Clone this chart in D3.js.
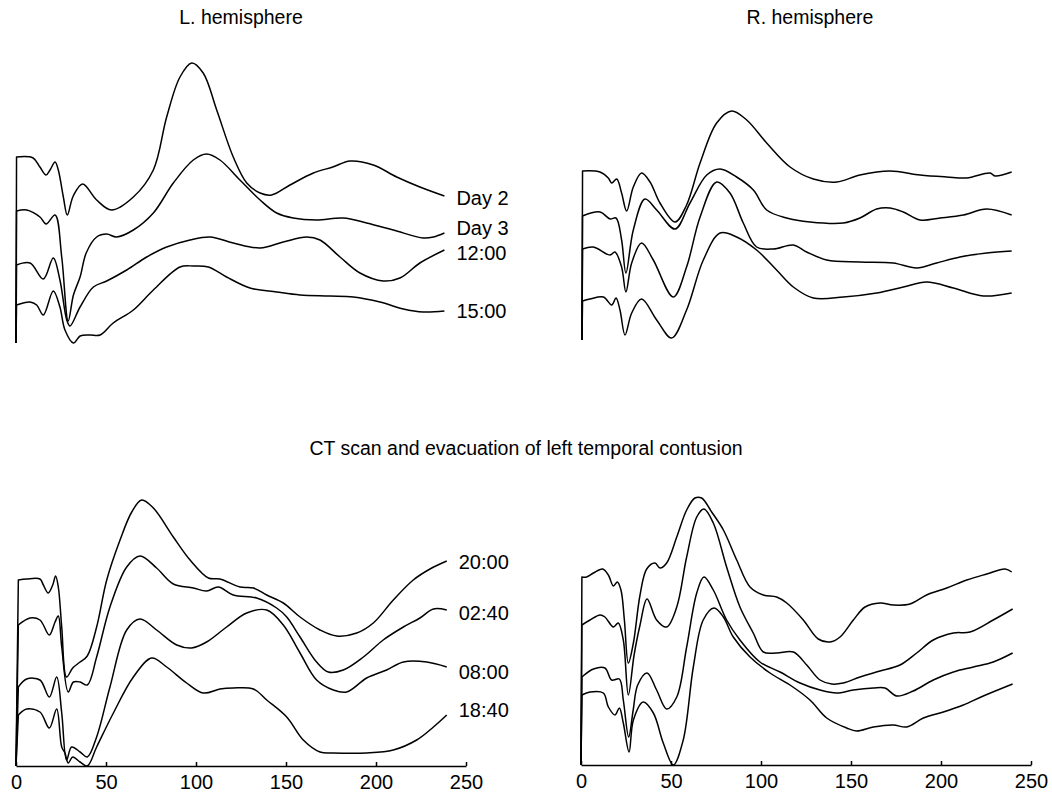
<!DOCTYPE html>
<html><head><meta charset="utf-8">
<script src="https://cdn.jsdelivr.net/npm/d3@7"></script>
<style>
body{margin:0;background:#fff}
svg{display:block;background:#fff}
text{font-family:"Liberation Sans",Arial,Helvetica,sans-serif;fill:#000}
</style>
</head><body>
<svg id="c" width="1052" height="794"></svg>
<script>
// ---------- DATA: [time (x), amplitude] ----------
const xTicks = [0, 50, 100, 150, 200, 250];
const titleLeft = "L. hemisphere";
const titleRight = "R. hemisphere";
const titleMiddle = "CT scan and evacuation of left temporal contusion";
const labelsTop = ["Day 2", "Day 3", "12:00", "15:00"];
const labelsBottom = ["20:00", "02:40", "08:00", "18:40"];

// Top-left (L. hemisphere, before surgery)
const L_day2 = [[0,0],[0.3,186],[9.5,185],[13.3,176],[16.7,168],[18.9,173],[21.7,181],[23.5,173],[26.3,146],[28.5,128],[31.8,147],[37,159],[44.8,143],[53.1,133],[65.2,146],[76.3,173],[83.7,226],[91.1,266],[97.6,280],[104,270],[111.5,233],[120.7,186],[128.2,160],[135.6,150],[142,148],[152.2,158],[165.2,170],[176,176],[185.6,182],[198.5,178],[211.5,166],[224.4,156],[238,147]];
const L_day3 = [[0,0],[0.3,132],[5.9,133],[13.3,126],[16.7,119],[21.7,128],[25.4,86],[29,22],[31.9,48],[35.6,66],[39,90],[44.8,106],[50.4,109],[55.9,106],[65.2,113],[76.3,130],[87.4,160],[98.5,183],[105.9,189],[113.3,183],[124.4,163],[135.6,143],[144.8,130],[154,125],[167,123],[181.8,125],[194.8,120],[209.6,113],[226.3,105],[231.9,106],[238,110]];
const L_1200 = [[0,0],[0.3,78],[7.8,80],[15.2,64],[20.7,85],[24.4,63],[28.2,23],[30,17],[35.6,36],[43,56],[50.4,62],[61.5,73],[72.6,86],[83.7,96],[96.7,103],[107.8,106],[120.7,100],[135.6,95],[148.5,101],[161.5,106],[168.9,103],[180,86],[191.1,70],[204,62],[213.3,65],[224.4,80],[238,93]];
const L_1500 = [[0,0],[0.3,38],[7.8,41],[11.5,38],[15.2,28],[20.7,52],[24.4,36],[27.2,13],[31.9,0],[35.6,7],[41.1,8],[46.7,8],[54,20],[65.2,33],[76.3,53],[91.1,76],[98.5,77],[106.9,76],[117,66],[130,55],[144.8,51],[157.8,48],[174.4,47],[187.4,46],[202.2,41],[215.2,34],[226.3,31],[238,32]];

// Top-right (R. hemisphere, before surgery)
const R_day2 = [[0,0],[0.3,169],[10,168],[14.6,162],[16.5,157],[19.3,161],[22,147],[24.8,129],[28.5,153],[33.1,167],[37.8,158],[43.3,137],[51.7,118],[58.1,135],[65.6,177],[74.8,217],[83.1,229],[91.5,220],[102.6,197],[115.6,173],[128.5,161],[141.5,158],[154.4,165],[171.1,169],[187.8,165],[202.6,163],[213.7,162],[226.7,167],[229.4,164],[238.7,168]];
const R_day3 = [[0,0],[0.3,124],[10,128],[15.6,121],[18.9,122],[22,100],[24.4,67],[28.5,110],[35,141],[41.5,130],[51.7,111],[60,137],[69.3,165],[76.7,171],[85.9,163],[95.2,150],[102.6,130],[113.7,122],[126.7,118],[145.2,117],[154.4,122],[163.7,131],[171.1,132],[178.5,128],[187.8,120],[198.9,122],[211.9,125],[224.8,131],[238.7,125]];
const R_1200 = [[0,0],[0.3,91],[6.3,93],[15.6,85],[18.3,88],[22,73],[24.4,48],[27.6,77],[33.1,97],[39.6,80],[50.7,43],[58.1,73],[65.6,123],[74.8,158],[82.2,147],[89.6,117],[97,93],[106.3,91],[117.4,95],[124.8,88],[135.9,80],[154.4,78],[172.9,77],[185.9,72],[197,77],[210,83],[224.8,87],[238.7,89]];
const R_1500 = [[0,0],[0.3,39],[4.4,41],[11.9,43],[16.5,35],[18.9,42],[21.1,30],[23.9,5],[27.6,27],[33.1,41],[41.5,20],[49.8,2],[58.1,30],[67.4,80],[76.7,107],[85.9,103],[97,90],[108.1,70],[117.4,53],[128.5,42],[145.2,43],[163.7,47],[178.5,53],[191.5,58],[206.3,52],[223,44],[238.7,47]];

// Bottom-left (L. hemisphere, after surgery)
const BL_2000 = [[0,0],[1.3,186],[5.9,187],[13.3,187],[15.2,181],[17.9,173],[20.4,181],[22,190],[23.5,179],[25.4,139],[28.1,89],[31.5,98],[35.6,104],[39.6,110],[44.8,139],[50.4,186],[57.8,226],[64.3,254],[69.8,266],[76.3,258],[87.4,229],[96.7,206],[106.9,188],[113.3,187],[124.4,179],[131.9,178],[139.3,171],[148.5,163],[157.8,149],[168.9,136],[178.2,130],[189.3,133],[198.5,143],[209.6,166],[220.7,186],[230,197],[239.3,205]];
const BL_0240 = [[0,0],[1.3,141],[7.8,148],[13.3,146],[18.5,131],[21.7,144],[23.5,150],[25.4,119],[29,74],[31.9,84],[35.6,84],[39.6,81],[44.8,109],[52.2,159],[61.5,199],[68.9,210],[78.1,198],[87.4,182],[98.5,178],[105.9,175],[112.4,179],[120.7,171],[133.7,168],[144.8,158],[150.4,149],[157.8,129],[167,104],[173.5,94],[181.8,96],[193,109],[204,126],[215.2,139],[224.4,148],[231.9,157],[239.3,156]];
const BL_0800 = [[0,0],[1.3,79],[5.9,87],[13.3,86],[18.5,69],[22.6,89],[25.4,53],[28.1,6],[30.9,19],[35.6,14],[39.6,9],[44.8,29],[52.2,79],[61.5,136],[68.9,147],[78.1,136],[89.3,121],[97.6,118],[105.9,124],[117,139],[128.2,153],[139.3,156],[148.5,141],[157.8,113],[167,86],[176.3,76],[183.7,74],[194.8,88],[205.9,96],[215.2,104],[228.2,104],[239.3,99]];
const BL_1840 = [[0,0],[1.3,51],[5.9,57],[13.3,54],[18.5,38],[22.6,57],[25.4,19],[27.2,13],[29,3],[31.5,9],[35.6,4],[39.6,0],[44.8,19],[54.1,53],[65.2,89],[75.4,108],[83.7,99],[94.8,83],[104.1,73],[113.3,77],[120.7,78],[131.9,77],[139.3,66],[150.4,49],[159.6,26],[168.9,14],[176.3,13],[194.8,13],[209.6,16],[222.6,26],[231.9,39],[239.3,51]];

// Bottom-right (R. hemisphere, after surgery)
const BR_2000 = [[0,0],[0.5,188],[3.1,188],[6.9,192],[12,196],[15.2,190],[18,179],[20.2,183],[22.2,175],[24.1,145],[26.3,102],[29.1,122],[32.8,170],[36.5,196],[41.1,202],[43.9,197],[47.6,202],[53.2,228],[58.7,255],[63.3,267],[67,267],[72.6,253],[79.1,235],[86.5,205],[93.9,178],[101.3,170],[108.7,168],[114.3,162],[123.5,145],[131.8,126],[138.3,123],[143.9,128],[151.3,145],[157.8,158],[166.1,162],[173.5,160],[182.8,161],[192,170],[203.2,177],[214.3,185],[225.4,191],[235.6,196],[239.3,193]];
const BR_0240 = [[0,0],[0.5,140],[5,145],[10.6,150],[13.3,148],[18,138],[20.7,142],[23.5,125],[26.3,70],[29.5,110],[32.8,140],[36.7,166],[42,145],[47.6,138],[53.2,158],[58.7,208],[64.3,248],[68.3,256],[73.5,242],[80.9,198],[88.3,158],[95.7,132],[101.3,113],[108.7,112],[118,113],[125.4,100],[132.8,85],[139.3,81],[145.7,82],[155,88],[166.1,94],[177.2,100],[186.5,112],[195.7,125],[206.9,132],[216.1,133],[229,145],[239.8,156]];
const BR_0800 = [[0,0],[0.5,88],[6.9,96],[13.3,97],[17,85],[21.3,86],[23.5,65],[26.5,28],[29,55],[31.5,80],[36.7,92],[42,75],[47.6,56],[53.2,68],[58.7,118],[64.3,172],[68.3,188],[73.5,175],[80.9,145],[88.3,125],[99.4,103],[110.6,93],[121.7,82],[132.8,75],[142,72],[151.3,75],[162.4,77],[168.9,77],[175.4,69],[184.6,74],[195.7,85],[206.9,93],[218,98],[229,103],[239.8,112]];
const BR_1840 = [[0,0],[0.5,70],[5,73],[12.4,72],[15.2,58],[18.9,50],[21.3,57],[23.5,42],[26.7,13],[29.1,45],[34.6,63],[40.2,52],[45.7,22],[51.3,0],[56.8,25],[62.4,98],[67.9,145],[73.9,157],[79.1,148],[84.6,128],[93.9,108],[105,92],[116.1,80],[127.2,65],[136.5,47],[147.6,37],[153.1,34],[162.4,38],[173.5,40],[180.9,38],[190.2,47],[201.3,53],[212.4,60],[223.5,69],[239.8,81]];

// ---------- LAYOUT ----------
const panels = [
  {x0:16,  base:343, series:[L_day2,L_day3,L_1200,L_1500],     labels:labelsTop,    labelDy:[2,-5,3,0], axis:false},
  {x0:582, base:340, series:[R_day2,R_day3,R_1200,R_1500],     labels:null,         axis:false},
  {x0:16,  base:766, series:[BL_2000,BL_0240,BL_0800,BL_1840], labels:labelsBottom, labelDy:[1,3,5,-5], axis:true},
  {x0:581, base:765, series:[BR_2000,BR_0240,BR_0800,BR_1840], labels:null,         axis:true}
];

const svg = d3.select("#c");

panels.forEach(p => {
  const x = d3.scaleLinear().domain([0, 250]).range([p.x0, p.x0 + 450]);
  const y = d3.scaleLinear().domain([0, 300]).range([p.base, p.base - 300]);
  const smooth = d3.line().x(d => x(d[0])).y(d => y(d[1])).curve(d3.curveCatmullRom.alpha(0.5));
  // straight rise from the baseline at t=0, then a smooth trace
  const tracePath = d => `M${x(d[0][0])},${y(d[0][1])}L` + smooth(d.slice(1)).slice(1);
  const g = svg.append("g");

  g.selectAll("path.trace").data(p.series).join("path")
    .attr("class", "trace")
    .attr("d", tracePath)
    .attr("fill", "none")
    .attr("stroke", "#000")
    .attr("stroke-width", 1.5)
    .attr("stroke-linejoin", "round");

  if (p.labels) {
    g.selectAll("text.lab").data(p.series).join("text")
      .attr("class", "lab")
      .attr("x", d => x(d[d.length - 1][0]) + 12)
      .attr("y", (d, i) => y(d[d.length - 1][1]) + p.labelDy[i])
      .attr("dominant-baseline", "central")
      .style("font-size", "20px")
      .text((d, i) => p.labels[i]);
  }

  if (p.axis) {
    const ax = d3.axisBottom(x).tickValues(xTicks).tickSizeInner(-4).tickSizeOuter(0).tickPadding(9);
    const ag = g.append("g").attr("transform", `translate(0,${p.base})`).call(ax);
    ag.select(".domain").attr("stroke", "#000").attr("stroke-width", 1.5);
    ag.selectAll(".tick line").attr("stroke", "#000").attr("stroke-width", 1.5);
    ag.selectAll(".tick text").style("font-size", "20px").style("font-family", '"Liberation Sans",Arial,sans-serif').attr("fill", "#000");
  }
});

svg.append("text").attr("x", 241).attr("y", 17).attr("text-anchor", "middle")
  .attr("dominant-baseline", "central").style("font-size", "19.5px").text(titleLeft);
svg.append("text").attr("x", 810).attr("y", 17).attr("text-anchor", "middle")
  .attr("dominant-baseline", "central").style("font-size", "19.5px").text(titleRight);
svg.append("text").attr("x", 526).attr("y", 448).attr("text-anchor", "middle")
  .attr("dominant-baseline", "central").style("font-size", "19.5px").text(titleMiddle);
</script>
</body></html>
